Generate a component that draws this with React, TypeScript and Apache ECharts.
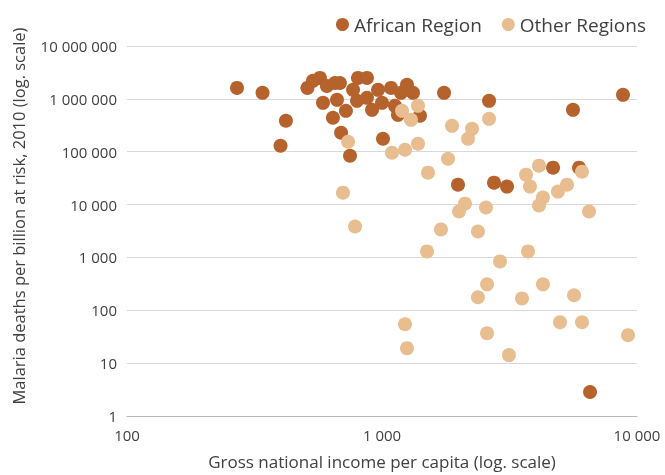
import React, { useEffect, useRef } from "react";
import * as echarts from "echarts";

const africanGni = [270, 340, 420, 400, 510, 536, 571, 608, 654, 684, 770, 805, 873, 587, 666, 642, 722, 798, 873, 914, 965, 1085, 1253, 1187, 1323, 1000, 1155, 1409, 1124, 1751, 691, 749, 1009, 2629, 5610, 8811, 1986, 2750, 3092, 4686, 5925, 6543];
const africanDeaths = [1610000, 1300000, 385000, 130000, 1610000, 2190000, 2490000, 1760000, 2000000, 2000000, 1480000, 2490000, 2490000, 841000, 958000, 438000, 594000, 917000, 1045000, 620000, 1480000, 1610000, 1840000, 1300000, 1300000, 841000, 499000, 478000, 738000, 1300000, 228000, 84000, 176000, 917000, 620000, 1190000, 23800, 26000, 21900, 49900, 49900, 2.84];

const otherGni = [736, 703, 784, 1198, 1384, 1299, 1094, 1231, 1384, 1515, 1882, 2254, 2174, 2629, 1815, 2004, 2115, 2557, 3671, 4128, 3805, 4277, 4128, 4898, 5313, 6085, 6485, 1703, 2378, 1501, 2902, 3738, 2582, 2378, 4277, 3540, 5663, 1231, 1253, 2582, 3147, 4990, 6085, 9220];
const otherDeaths = [154500, 16800, 3850, 594000, 738000, 401000, 95800, 109000, 141600, 40200, 309000, 271000, 176000, 419000, 73800, 7380, 10400, 8780, 36800, 54500, 21900, 13600, 9580, 17600, 23800, 42000, 7380, 3370, 3100, 1300, 841, 1300, 310, 176, 310, 168, 192, 54.4, 19.2, 36.8, 14.2, 59.4, 59.4, 33.8];

const seriesNames = ["African Region", "Other Regions"];
const seriesColors = ["#b5622c", "#e8bd90"];

const fmt = (v: number) => String(Math.round(v)).replace(/\B(?=(\d{3})+(?!\d))/g, " ");

export default function App() {
  const ref = useRef<HTMLDivElement>(null);
  useEffect(() => {
    if (!ref.current) return;
    const chart = echarts.init(ref.current, undefined, { renderer: "svg" });
    const font = "'Open Sans', sans-serif";
    chart.setOption({
      animation: false,
      textStyle: { fontFamily: font },
      legend: {
        top: 10,
        right: 14,
        icon: "circle",
        itemWidth: 13,
        itemHeight: 13,
        itemGap: 20,
        textStyle: { fontSize: 19, color: "#404040", fontFamily: font },
        data: seriesNames,
      },
      grid: { left: 127, right: 28, top: 46, bottom: 58 },
      xAxis: {
        type: "log",
        logBase: 10,
        min: 100,
        max: 10000,
        name: "Gross national income per capita (log. scale)",
        nameLocation: "middle",
        nameGap: 37,
        nameTextStyle: { fontSize: 17, color: "#404040" },
        axisLine: { show: true, lineStyle: { color: "#b8b8c4", width: 1 } },
        axisTick: { show: false },
        splitLine: { show: false },
        axisLabel: { fontSize: 15, color: "#404040", margin: 11, formatter: (v: number) => fmt(v) },
      },
      yAxis: {
        type: "log",
        logBase: 10,
        min: 1,
        max: 10000000,
        name: "Malaria deaths per billion at risk, 2010 (log. scale)",
        nameLocation: "middle",
        nameGap: 100,
        nameTextStyle: { fontSize: 16.5, color: "#404040", padding: [0, 0, 0, 30] },
        axisLine: { show: false },
        axisTick: { show: false },
        splitLine: { show: true, lineStyle: { color: "#d9d9d9", width: 1 } },
        axisLabel: { fontSize: 15, color: "#404040", margin: 10, formatter: (v: number) => fmt(v) },
      },
      series: [
        {
          name: seriesNames[0],
          type: "scatter",
          symbolSize: 14,
          itemStyle: { color: seriesColors[0], opacity: 1 },
          data: africanGni.map((g, i) => [g, africanDeaths[i]]),
        },
        {
          name: seriesNames[1],
          type: "scatter",
          symbolSize: 14,
          itemStyle: { color: seriesColors[1], opacity: 1 },
          data: otherGni.map((g, i) => [g, otherDeaths[i]]),
        },
      ],
    });
    return () => chart.dispose();
  }, []);
  return <div ref={ref} style={{ position: "fixed", left: 0, top: 0, width: 665, height: 475 }} />;
}
